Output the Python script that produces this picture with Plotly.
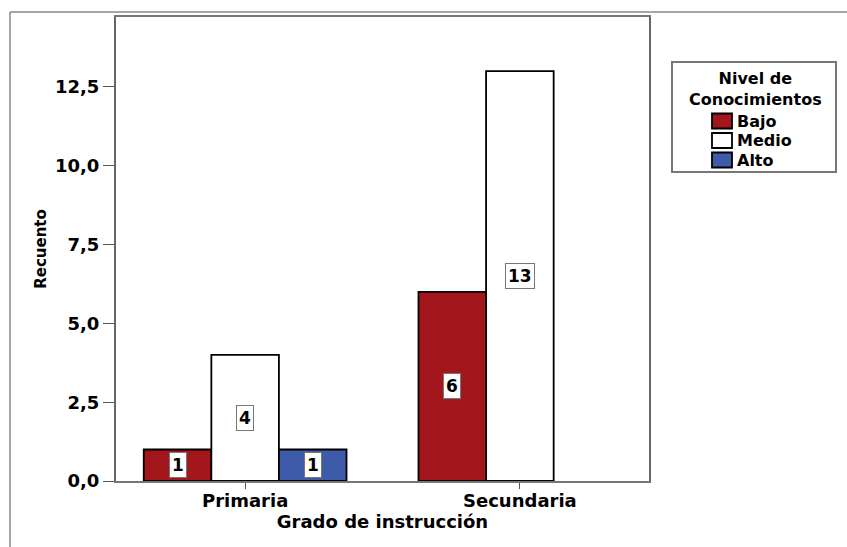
import plotly.graph_objects as go

# ---- data ----
categories = ["Primaria", "Secundaria"]
series_names = ["Bajo", "Medio", "Alto"]
bajo = [1, 6]
medio = [4, 13]
alto = [1, 0]
series_values = [bajo, medio, alto]
colors = ["#A3171C", "#FFFFFF", "#3E5BAA"]
y_tickvals = [0, 2.5, 5, 7.5, 10, 12.5]
y_ticktext = ["0,0", "2,5", "5,0", "7,5", "10,0", "12,5"]
legend_title = "Nivel de<br>Conocimientos"
x_title = "Grado de instrucción"
y_title = "Recuento"

W, H = 847, 547
ML, MR, MT, MB = 116, 198, 17, 66
PW, PH = W - ML - MR, H - MT - MB

def px(x):
    return (x - ML) / PW

def py(y):
    return (H - MB - y) / PH

FONT = "DejaVu Sans"
bargap = 0.262
nser = len(series_names)
bw = (1 - bargap) / nser

fig = go.Figure()
for i, (name, vals, col) in enumerate(zip(series_names, series_values, colors)):
    fig.add_trace(go.Bar(
        x=categories, y=vals, name=name,
        marker=dict(color=col, line=dict(color="black", width=[1.8 if v else 0 for v in vals])),
        showlegend=False, hoverinfo="skip",
    ))
    for ci, v in enumerate(vals):
        if v == 0:
            continue
        fig.add_annotation(
            x=ci + (i - (nser - 1) / 2) * bw, y=v / 2, xref="x", yref="y",
            xanchor="center", yanchor="middle",
            text=str(v), showarrow=False,
            font=dict(family=FONT, size=17, color="black", weight="bold"),
            bgcolor="white", bordercolor="#777777", borderwidth=1, borderpad=2,
        )

fig.update_layout(
    width=W, height=H,
    margin=dict(l=ML, r=MR, t=MT, b=MB),
    paper_bgcolor="white", plot_bgcolor="white",
    barmode="group", bargap=bargap, bargroupgap=0,
    xaxis=dict(
        range=[-0.47, 1.47], showgrid=False, zeroline=False,
        showline=True, mirror=True, linecolor="#777777", linewidth=2,
        ticks="outside", ticklen=6, tickcolor="#555555", tickwidth=1,
        ticklabelstandoff=-4,
        tickfont=dict(family=FONT, size=18, color="black", weight="bold"),
        title=dict(text=x_title, font=dict(family=FONT, size=18, color="black", weight="bold"), standoff=5),
    ),
    yaxis=dict(
        range=[0, 14.72], showgrid=False, zeroline=False,
        showline=True, mirror=True, linecolor="#666666", linewidth=2,
        ticks="outside", ticklen=11, tickcolor="#555555", tickwidth=1,
        tickvals=y_tickvals, ticktext=y_ticktext,
        tickfont=dict(family=FONT, size=18, color="black", weight="bold"),
        title=dict(text=y_title, font=dict(family=FONT, size=15, color="black", weight="bold"), standoff=5),
    ),
)

# outer frame lines (top and left)
fig.add_shape(type="line", xref="paper", yref="paper", x0=px(10), x1=px(W), y0=py(12), y1=py(12),
              line=dict(color="#888888", width=1.5))
fig.add_shape(type="line", xref="paper", yref="paper", x0=px(10), x1=px(10), y0=py(12), y1=py(H),
              line=dict(color="#888888", width=1.5))

# legend box
fig.add_shape(type="rect", xref="paper", yref="paper", x0=px(672), x1=px(836), y0=py(172), y1=py(62),
              line=dict(color="#777777", width=2), fillcolor="white")
fig.add_annotation(x=px(755), y=py(89), xref="paper", yref="paper", text="<b>" + legend_title + "</b>",
                   showarrow=False, align="center", xanchor="center", yanchor="middle",
                   font=dict(family=FONT, size=16, color="black"))
for i, (name, col) in enumerate(zip(series_names, colors)):
    yc = 121 + i * 19.5
    fig.add_shape(type="rect", xref="paper", yref="paper",
                  x0=px(712), x1=px(732), y0=py(yc + 7.5), y1=py(yc - 7.5),
                  line=dict(color="black", width=1.8), fillcolor=col)
    fig.add_annotation(x=px(735), y=py(yc), xref="paper", yref="paper", text="<b>" + name + "</b>",
                       showarrow=False, xanchor="left", yanchor="middle",
                       font=dict(family=FONT, size=16, color="black"))

fig.write_html("out.html", config={"displayModeBar": False},
               post_script="document.body.style.margin='0px';")
